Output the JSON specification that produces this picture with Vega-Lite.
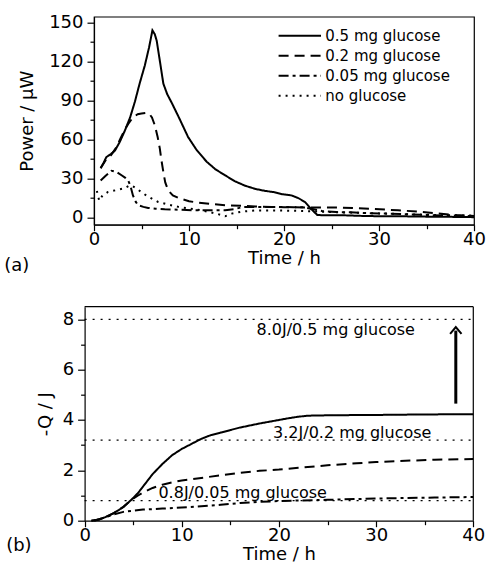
{
  "$schema": "https://vega.github.io/schema/vega-lite/v6.json",
  "padding": {"left": 3, "top": 12.7, "right": 5, "bottom": 2},
  "background": "white",
  "spacing": 28,
  "config": {
    "view": {"stroke": "black", "strokeWidth": 1.2},
    "axis": {
      "domainColor": "black", "domainWidth": 1.2, "tickColor": "black", "tickWidth": 1.2,
      "labelColor": "black", "titleColor": "black",
      "labelFont": "DejaVu Sans", "titleFont": "DejaVu Sans",
      "labelFontSize": 18, "titleFontSize": 18, "titleFontWeight": "normal",
      "grid": false
    },
    "title": {"font": "DejaVu Sans", "fontSize": 18, "fontWeight": "normal", "color": "black"}
  },
  "datasets": {
    "power": [
      {"s": "0.5 mg glucose", "t": 0.7, "v": 38}, {"s": "0.5 mg glucose", "t": 1.0, "v": 42}, {"s": "0.5 mg glucose", "t": 1.3, "v": 46.5}, {"s": "0.5 mg glucose", "t": 1.8, "v": 49}, {"s": "0.5 mg glucose", "t": 2.2, "v": 51.5}, {"s": "0.5 mg glucose", "t": 2.7, "v": 58}, {"s": "0.5 mg glucose", "t": 3.2, "v": 66}, {"s": "0.5 mg glucose", "t": 3.8, "v": 77}, {"s": "0.5 mg glucose", "t": 4.3, "v": 89}, {"s": "0.5 mg glucose", "t": 4.8, "v": 103}, {"s": "0.5 mg glucose", "t": 5.35, "v": 117}, {"s": "0.5 mg glucose", "t": 5.8, "v": 131}, {"s": "0.5 mg glucose", "t": 6.15, "v": 144}, {"s": "0.5 mg glucose", "t": 6.4, "v": 141}, {"s": "0.5 mg glucose", "t": 6.6, "v": 136}, {"s": "0.5 mg glucose", "t": 6.9, "v": 122}, {"s": "0.5 mg glucose", "t": 7.3, "v": 103}, {"s": "0.5 mg glucose", "t": 7.7, "v": 95}, {"s": "0.5 mg glucose", "t": 8.2, "v": 88}, {"s": "0.5 mg glucose", "t": 9.0, "v": 76}, {"s": "0.5 mg glucose", "t": 9.9, "v": 62}, {"s": "0.5 mg glucose", "t": 10.8, "v": 52}, {"s": "0.5 mg glucose", "t": 11.85, "v": 43}, {"s": "0.5 mg glucose", "t": 12.8, "v": 37}, {"s": "0.5 mg glucose", "t": 13.8, "v": 32.5}, {"s": "0.5 mg glucose", "t": 14.8, "v": 28}, {"s": "0.5 mg glucose", "t": 15.9, "v": 24.5}, {"s": "0.5 mg glucose", "t": 17, "v": 22}, {"s": "0.5 mg glucose", "t": 18, "v": 20.5}, {"s": "0.5 mg glucose", "t": 19, "v": 19.5}, {"s": "0.5 mg glucose", "t": 19.8, "v": 18}, {"s": "0.5 mg glucose", "t": 20.8, "v": 17}, {"s": "0.5 mg glucose", "t": 21.5, "v": 15}, {"s": "0.5 mg glucose", "t": 22.2, "v": 12}, {"s": "0.5 mg glucose", "t": 22.8, "v": 7}, {"s": "0.5 mg glucose", "t": 23.5, "v": 2}, {"s": "0.5 mg glucose", "t": 24, "v": 1.8}, {"s": "0.5 mg glucose", "t": 26, "v": 1.8}, {"s": "0.5 mg glucose", "t": 28, "v": 1.3}, {"s": "0.5 mg glucose", "t": 30, "v": 1}, {"s": "0.5 mg glucose", "t": 32, "v": 1}, {"s": "0.5 mg glucose", "t": 34, "v": 0.8}, {"s": "0.5 mg glucose", "t": 36, "v": 0.6}, {"s": "0.5 mg glucose", "t": 38, "v": 0.5}, {"s": "0.5 mg glucose", "t": 40, "v": 0.3},
      {"s": "0.2 mg glucose", "t": 0.7, "v": 38}, {"s": "0.2 mg glucose", "t": 1.3, "v": 45}, {"s": "0.2 mg glucose", "t": 1.8, "v": 48}, {"s": "0.2 mg glucose", "t": 2.35, "v": 54}, {"s": "0.2 mg glucose", "t": 2.8, "v": 61}, {"s": "0.2 mg glucose", "t": 3.2, "v": 67}, {"s": "0.2 mg glucose", "t": 3.6, "v": 72}, {"s": "0.2 mg glucose", "t": 4.1, "v": 77}, {"s": "0.2 mg glucose", "t": 4.6, "v": 79.5}, {"s": "0.2 mg glucose", "t": 5.0, "v": 80}, {"s": "0.2 mg glucose", "t": 5.5, "v": 80.5}, {"s": "0.2 mg glucose", "t": 5.8, "v": 80}, {"s": "0.2 mg glucose", "t": 6.1, "v": 77}, {"s": "0.2 mg glucose", "t": 6.4, "v": 71}, {"s": "0.2 mg glucose", "t": 6.7, "v": 62}, {"s": "0.2 mg glucose", "t": 6.93, "v": 53}, {"s": "0.2 mg glucose", "t": 7.1, "v": 44}, {"s": "0.2 mg glucose", "t": 7.3, "v": 35}, {"s": "0.2 mg glucose", "t": 7.5, "v": 27}, {"s": "0.2 mg glucose", "t": 7.8, "v": 21}, {"s": "0.2 mg glucose", "t": 8.3, "v": 17}, {"s": "0.2 mg glucose", "t": 8.9, "v": 15}, {"s": "0.2 mg glucose", "t": 10, "v": 12.5}, {"s": "0.2 mg glucose", "t": 11, "v": 11.5}, {"s": "0.2 mg glucose", "t": 12.5, "v": 10.3}, {"s": "0.2 mg glucose", "t": 13.8, "v": 9.5}, {"s": "0.2 mg glucose", "t": 15.6, "v": 9}, {"s": "0.2 mg glucose", "t": 17, "v": 8.5}, {"s": "0.2 mg glucose", "t": 18.7, "v": 8.2}, {"s": "0.2 mg glucose", "t": 20, "v": 8}, {"s": "0.2 mg glucose", "t": 22.2, "v": 7.8}, {"s": "0.2 mg glucose", "t": 24, "v": 7.7}, {"s": "0.2 mg glucose", "t": 25.8, "v": 7.7}, {"s": "0.2 mg glucose", "t": 27.5, "v": 7.2}, {"s": "0.2 mg glucose", "t": 29.3, "v": 6.6}, {"s": "0.2 mg glucose", "t": 32, "v": 5.6}, {"s": "0.2 mg glucose", "t": 34.6, "v": 4.3}, {"s": "0.2 mg glucose", "t": 36, "v": 3.2}, {"s": "0.2 mg glucose", "t": 38, "v": 2}, {"s": "0.2 mg glucose", "t": 40, "v": 1.2},
      {"s": "0.05 mg glucose", "t": 0.7, "v": 28.5}, {"s": "0.05 mg glucose", "t": 1.2, "v": 32}, {"s": "0.05 mg glucose", "t": 1.83, "v": 36}, {"s": "0.05 mg glucose", "t": 2.4, "v": 35}, {"s": "0.05 mg glucose", "t": 2.9, "v": 32.5}, {"s": "0.05 mg glucose", "t": 3.3, "v": 30.5}, {"s": "0.05 mg glucose", "t": 3.6, "v": 28.5}, {"s": "0.05 mg glucose", "t": 3.85, "v": 24}, {"s": "0.05 mg glucose", "t": 4.1, "v": 17}, {"s": "0.05 mg glucose", "t": 4.4, "v": 12}, {"s": "0.05 mg glucose", "t": 4.65, "v": 9.5}, {"s": "0.05 mg glucose", "t": 5.2, "v": 8.2}, {"s": "0.05 mg glucose", "t": 5.7, "v": 7.4}, {"s": "0.05 mg glucose", "t": 6.5, "v": 6.8}, {"s": "0.05 mg glucose", "t": 7.45, "v": 6.4}, {"s": "0.05 mg glucose", "t": 9, "v": 6}, {"s": "0.05 mg glucose", "t": 10.3, "v": 5.6}, {"s": "0.05 mg glucose", "t": 12, "v": 5.6}, {"s": "0.05 mg glucose", "t": 13.8, "v": 5.6}, {"s": "0.05 mg glucose", "t": 14.8, "v": 6.5}, {"s": "0.05 mg glucose", "t": 15.6, "v": 8}, {"s": "0.05 mg glucose", "t": 17, "v": 8.2}, {"s": "0.05 mg glucose", "t": 19.4, "v": 8.2}, {"s": "0.05 mg glucose", "t": 21, "v": 8}, {"s": "0.05 mg glucose", "t": 22.2, "v": 7.8}, {"s": "0.05 mg glucose", "t": 23, "v": 6.5}, {"s": "0.05 mg glucose", "t": 24, "v": 5}, {"s": "0.05 mg glucose", "t": 25.5, "v": 4.2}, {"s": "0.05 mg glucose", "t": 27, "v": 4}, {"s": "0.05 mg glucose", "t": 29, "v": 3.3}, {"s": "0.05 mg glucose", "t": 31, "v": 3}, {"s": "0.05 mg glucose", "t": 33, "v": 2.5}, {"s": "0.05 mg glucose", "t": 35, "v": 2}, {"s": "0.05 mg glucose", "t": 37, "v": 1.5}, {"s": "0.05 mg glucose", "t": 40, "v": 1},
      {"s": "no glucose", "t": 0.3, "v": 20.5}, {"s": "no glucose", "t": 0.55, "v": 13}, {"s": "no glucose", "t": 0.9, "v": 17}, {"s": "no glucose", "t": 1.48, "v": 19.7}, {"s": "no glucose", "t": 2.3, "v": 21}, {"s": "no glucose", "t": 3.2, "v": 22.5}, {"s": "no glucose", "t": 3.76, "v": 24.8}, {"s": "no glucose", "t": 4.1, "v": 24}, {"s": "no glucose", "t": 4.47, "v": 22.3}, {"s": "no glucose", "t": 5, "v": 19.5}, {"s": "no glucose", "t": 5.5, "v": 17}, {"s": "no glucose", "t": 6.1, "v": 14.5}, {"s": "no glucose", "t": 6.75, "v": 12}, {"s": "no glucose", "t": 7.8, "v": 10}, {"s": "no glucose", "t": 8.9, "v": 8.2}, {"s": "no glucose", "t": 10, "v": 7}, {"s": "no glucose", "t": 11.3, "v": 5.6}, {"s": "no glucose", "t": 12.1, "v": 4.3}, {"s": "no glucose", "t": 12.9, "v": 3}, {"s": "no glucose", "t": 13.8, "v": 1}, {"s": "no glucose", "t": 14.5, "v": 3}, {"s": "no glucose", "t": 15.5, "v": 4.5}, {"s": "no glucose", "t": 17, "v": 5.5}, {"s": "no glucose", "t": 19, "v": 5.5}, {"s": "no glucose", "t": 21, "v": 5.2}, {"s": "no glucose", "t": 23, "v": 4.8}, {"s": "no glucose", "t": 25, "v": 4.2}, {"s": "no glucose", "t": 27, "v": 3.8}, {"s": "no glucose", "t": 30, "v": 3.2}, {"s": "no glucose", "t": 33, "v": 2.5}, {"s": "no glucose", "t": 36, "v": 2}, {"s": "no glucose", "t": 40, "v": 1.5}
    ],
    "heat": [
      {"s": "0.5 mg glucose", "t": 0.7, "q": 0}, {"s": "0.5 mg glucose", "t": 1.5, "q": 0.05}, {"s": "0.5 mg glucose", "t": 2, "q": 0.12}, {"s": "0.5 mg glucose", "t": 2.5, "q": 0.2}, {"s": "0.5 mg glucose", "t": 3, "q": 0.3}, {"s": "0.5 mg glucose", "t": 3.5, "q": 0.42}, {"s": "0.5 mg glucose", "t": 4, "q": 0.55}, {"s": "0.5 mg glucose", "t": 4.5, "q": 0.72}, {"s": "0.5 mg glucose", "t": 5, "q": 0.9}, {"s": "0.5 mg glucose", "t": 5.5, "q": 1.1}, {"s": "0.5 mg glucose", "t": 6, "q": 1.35}, {"s": "0.5 mg glucose", "t": 6.5, "q": 1.6}, {"s": "0.5 mg glucose", "t": 7, "q": 1.85}, {"s": "0.5 mg glucose", "t": 7.5, "q": 2.05}, {"s": "0.5 mg glucose", "t": 8, "q": 2.25}, {"s": "0.5 mg glucose", "t": 9, "q": 2.6}, {"s": "0.5 mg glucose", "t": 10, "q": 2.85}, {"s": "0.5 mg glucose", "t": 11, "q": 3.05}, {"s": "0.5 mg glucose", "t": 12, "q": 3.25}, {"s": "0.5 mg glucose", "t": 13, "q": 3.4}, {"s": "0.5 mg glucose", "t": 14, "q": 3.5}, {"s": "0.5 mg glucose", "t": 15, "q": 3.6}, {"s": "0.5 mg glucose", "t": 16, "q": 3.7}, {"s": "0.5 mg glucose", "t": 17, "q": 3.78}, {"s": "0.5 mg glucose", "t": 18, "q": 3.86}, {"s": "0.5 mg glucose", "t": 19, "q": 3.93}, {"s": "0.5 mg glucose", "t": 20, "q": 4.0}, {"s": "0.5 mg glucose", "t": 21, "q": 4.07}, {"s": "0.5 mg glucose", "t": 22, "q": 4.13}, {"s": "0.5 mg glucose", "t": 23, "q": 4.17}, {"s": "0.5 mg glucose", "t": 24, "q": 4.18}, {"s": "0.5 mg glucose", "t": 26, "q": 4.19}, {"s": "0.5 mg glucose", "t": 30, "q": 4.2}, {"s": "0.5 mg glucose", "t": 35, "q": 4.22}, {"s": "0.5 mg glucose", "t": 40, "q": 4.23},
      {"s": "0.2 mg glucose", "t": 0.7, "q": 0}, {"s": "0.2 mg glucose", "t": 1.5, "q": 0.05}, {"s": "0.2 mg glucose", "t": 2, "q": 0.12}, {"s": "0.2 mg glucose", "t": 3, "q": 0.3}, {"s": "0.2 mg glucose", "t": 4, "q": 0.55}, {"s": "0.2 mg glucose", "t": 4.5, "q": 0.72}, {"s": "0.2 mg glucose", "t": 5, "q": 0.88}, {"s": "0.2 mg glucose", "t": 5.5, "q": 1.0}, {"s": "0.2 mg glucose", "t": 6, "q": 1.12}, {"s": "0.2 mg glucose", "t": 7, "q": 1.3}, {"s": "0.2 mg glucose", "t": 8, "q": 1.43}, {"s": "0.2 mg glucose", "t": 9, "q": 1.52}, {"s": "0.2 mg glucose", "t": 10, "q": 1.6}, {"s": "0.2 mg glucose", "t": 12, "q": 1.7}, {"s": "0.2 mg glucose", "t": 14, "q": 1.8}, {"s": "0.2 mg glucose", "t": 16, "q": 1.9}, {"s": "0.2 mg glucose", "t": 18, "q": 1.98}, {"s": "0.2 mg glucose", "t": 20, "q": 2.03}, {"s": "0.2 mg glucose", "t": 22, "q": 2.1}, {"s": "0.2 mg glucose", "t": 25, "q": 2.2}, {"s": "0.2 mg glucose", "t": 28, "q": 2.28}, {"s": "0.2 mg glucose", "t": 30, "q": 2.33}, {"s": "0.2 mg glucose", "t": 33, "q": 2.38}, {"s": "0.2 mg glucose", "t": 36, "q": 2.42}, {"s": "0.2 mg glucose", "t": 40, "q": 2.45},
      {"s": "0.05 mg glucose", "t": 1, "q": 0}, {"s": "0.05 mg glucose", "t": 2, "q": 0.12}, {"s": "0.05 mg glucose", "t": 3, "q": 0.25}, {"s": "0.05 mg glucose", "t": 4, "q": 0.35}, {"s": "0.05 mg glucose", "t": 5, "q": 0.4}, {"s": "0.05 mg glucose", "t": 6, "q": 0.44}, {"s": "0.05 mg glucose", "t": 8, "q": 0.48}, {"s": "0.05 mg glucose", "t": 10, "q": 0.52}, {"s": "0.05 mg glucose", "t": 12, "q": 0.57}, {"s": "0.05 mg glucose", "t": 14, "q": 0.63}, {"s": "0.05 mg glucose", "t": 16, "q": 0.7}, {"s": "0.05 mg glucose", "t": 18, "q": 0.75}, {"s": "0.05 mg glucose", "t": 20, "q": 0.78}, {"s": "0.05 mg glucose", "t": 22, "q": 0.8}, {"s": "0.05 mg glucose", "t": 25, "q": 0.83}, {"s": "0.05 mg glucose", "t": 28, "q": 0.86}, {"s": "0.05 mg glucose", "t": 30, "q": 0.88}, {"s": "0.05 mg glucose", "t": 33, "q": 0.9}, {"s": "0.05 mg glucose", "t": 36, "q": 0.92}, {"s": "0.05 mg glucose", "t": 40, "q": 0.94}
    ],
    "limits": [
      {"q": 8.0, "label": "8.0J/0.5 mg glucose", "lt": 17.7, "lq": 7.57},
      {"q": 3.2, "label": "3.2J/0.2 mg glucose", "lt": 19.4, "lq": 3.5},
      {"q": 0.8, "label": "0.8J/0.05 mg glucose", "lt": 7.6, "lq": 1.08}
    ],
    "limitlines": [
      {"k": "8.0J", "t": 0, "q": 8.0}, {"k": "8.0J", "t": 40, "q": 8.0},
      {"k": "3.2J", "t": 0, "q": 3.2}, {"k": "3.2J", "t": 40, "q": 3.2},
      {"k": "0.8J", "t": 0, "q": 0.8}, {"k": "0.8J", "t": 40, "q": 0.8}
    ],
    "frame": [
      {"k": "top", "o": 1, "t": 0, "q": 8.5}, {"k": "top", "o": 2, "t": 40, "q": 8.5},
      {"k": "right", "o": 1, "t": 40, "q": 8.5}, {"k": "right", "o": 2, "t": 40, "q": 0}
    ]
  },
  "resolve": {"scale": {"strokeDash": "independent"}, "legend": {"strokeDash": "independent"}},
  "vconcat": [
    {
      "width": 380,
      "height": 208,
      "title": {"text": "(a)", "orient": "bottom", "anchor": "start", "frame": "bounds", "offset": -11, "dx": -14.4},
      "data": {"name": "power"},
      "mark": {"type": "line", "color": "black", "strokeWidth": 2},
      "encoding": {
        "x": {"field": "t", "type": "quantitative", "scale": {"domain": [0, 40], "nice": false},
          "axis": {"title": "Time / h", "values": [0, 5, 10, 15, 20, 25, 30, 35, 40],
            "labelExpr": "datum.value % 10 === 0 ? datum.label : ''",
            "tickSize": {"condition": {"test": "datum.value % 10 === 0", "value": 6}, "value": 4},
            "labelFontSize": 18, "labelPadding": 0, "titlePadding": 1, "labelFlush": false}},
        "y": {"field": "v", "type": "quantitative", "scale": {"domain": [-5.5, 154.5], "nice": false, "zero": false},
          "axis": {"title": "Power / μW", "values": [0, 15, 30, 45, 60, 75, 90, 105, 120, 135, 150],
            "labelExpr": "datum.value % 30 === 0 ? datum.label : ''",
            "tickSize": {"condition": {"test": "datum.value % 30 === 0", "value": 7}, "value": 4},
            "labelFontSize": 18, "labelPadding": 4, "titlePadding": 12}},
        "strokeDash": {"field": "s", "type": "nominal",
          "scale": {"domain": ["0.5 mg glucose", "0.2 mg glucose", "0.05 mg glucose", "no glucose"],
            "range": [[1, 0], [10, 6], [10, 4, 3, 4], [2, 5]]},
          "legend": {"title": null, "orient": "none", "legendX": 183.3, "legendY": 9.5,
            "symbolType": "stroke", "symbolSize": 1800, "symbolStrokeWidth": 2, "symbolStrokeColor": "black",
            "clipHeight": 19.2, "rowPadding": 0, "padding": 0,
            "labelFont": "DejaVu Sans", "labelFontSize": 15, "labelColor": "black", "labelOffset": 3}}
      }
    },
    {
      "width": 379.3,
      "height": 214,
      "view": {"stroke": null},
      "title": {"text": "(b)", "orient": "bottom", "anchor": "start", "frame": "bounds", "offset": -27, "dx": -30},
      "layer": [
        {
          "data": {"name": "limitlines"},
          "mark": {"type": "line", "color": "black", "strokeWidth": 1.2, "strokeDash": [2, 6]},
          "encoding": {
            "x": {"field": "t", "type": "quantitative"},
            "y": {"field": "q", "type": "quantitative"},
            "detail": {"field": "k"}
          }
        },
        {
          "data": {"name": "frame"},
          "mark": {"type": "line", "color": "black", "strokeWidth": 1.2},
          "encoding": {
            "x": {"field": "t", "type": "quantitative"},
            "y": {"field": "q", "type": "quantitative"},
            "detail": {"field": "k"},
            "order": {"field": "o"}
          }
        },
        {
          "data": {"name": "limits"},
          "mark": {"type": "text", "align": "left", "baseline": "middle", "font": "DejaVu Sans", "fontSize": 16, "color": "black"},
          "encoding": {
            "x": {"field": "lt", "type": "quantitative"},
            "y": {"field": "lq", "type": "quantitative"},
            "text": {"field": "label"}
          }
        },
        {
          "data": {"name": "heat"},
          "mark": {"type": "line", "color": "black", "strokeWidth": 2},
          "encoding": {
            "x": {"field": "t", "type": "quantitative"},
            "y": {"field": "q", "type": "quantitative"},
            "strokeDash": {"field": "s", "type": "nominal",
              "scale": {"domain": ["0.5 mg glucose", "0.2 mg glucose", "0.05 mg glucose", "no glucose"],
                "range": [[1, 0], [10, 6], [10, 4, 3, 4], [2, 5]]},
              "legend": null}
          }
        },
        {
          "data": {"values": [{"t": 38.2, "q1": 4.65, "q2": 7.55}]},
          "mark": {"type": "rule", "color": "black", "strokeWidth": 3},
          "encoding": {
            "x": {"field": "t", "type": "quantitative"},
            "y": {"field": "q1", "type": "quantitative"},
            "y2": {"field": "q2"}
          }
        },
        {
          "data": {"values": [{"t": 38.2, "q2": 7.6}]},
          "mark": {"type": "point", "shape": "M-1,0.8L0,-0.4L1,0.8", "filled": false, "color": "black", "strokeWidth": 2, "size": 130, "opacity": 1},
          "encoding": {
            "x": {"field": "t", "type": "quantitative"},
            "y": {"field": "q2", "type": "quantitative"}
          }
        }
      ],
      "encoding": {
        "x": {"field": "t", "type": "quantitative", "scale": {"domain": [0, 40], "nice": false, "range": [-9.4, 379.3]},
          "axis": {"title": "Time / h", "values": [0, 5, 10, 15, 20, 25, 30, 35, 40],
            "labelExpr": "datum.value % 10 === 0 ? datum.label : ''",
            "tickSize": {"condition": {"test": "datum.value % 10 === 0", "value": 6}, "value": 4},
            "labelFontSize": 18, "labelPadding": 0, "titlePadding": 1, "labelFlush": false}},
        "y": {"field": "q", "type": "quantitative", "scale": {"domain": [0, 8.5], "nice": false, "zero": false},
          "axis": {"title": "-Q / J", "values": [0, 1, 2, 3, 4, 5, 6, 7, 8], "offset": 9.4,
            "labelExpr": "datum.value % 2 === 0 ? datum.label : ''",
            "tickSize": {"condition": {"test": "datum.value % 2 === 0", "value": 7}, "value": 4},
            "labelFontSize": 18, "labelPadding": 4, "titlePadding": 8}}
      }
    }
  ]
}
